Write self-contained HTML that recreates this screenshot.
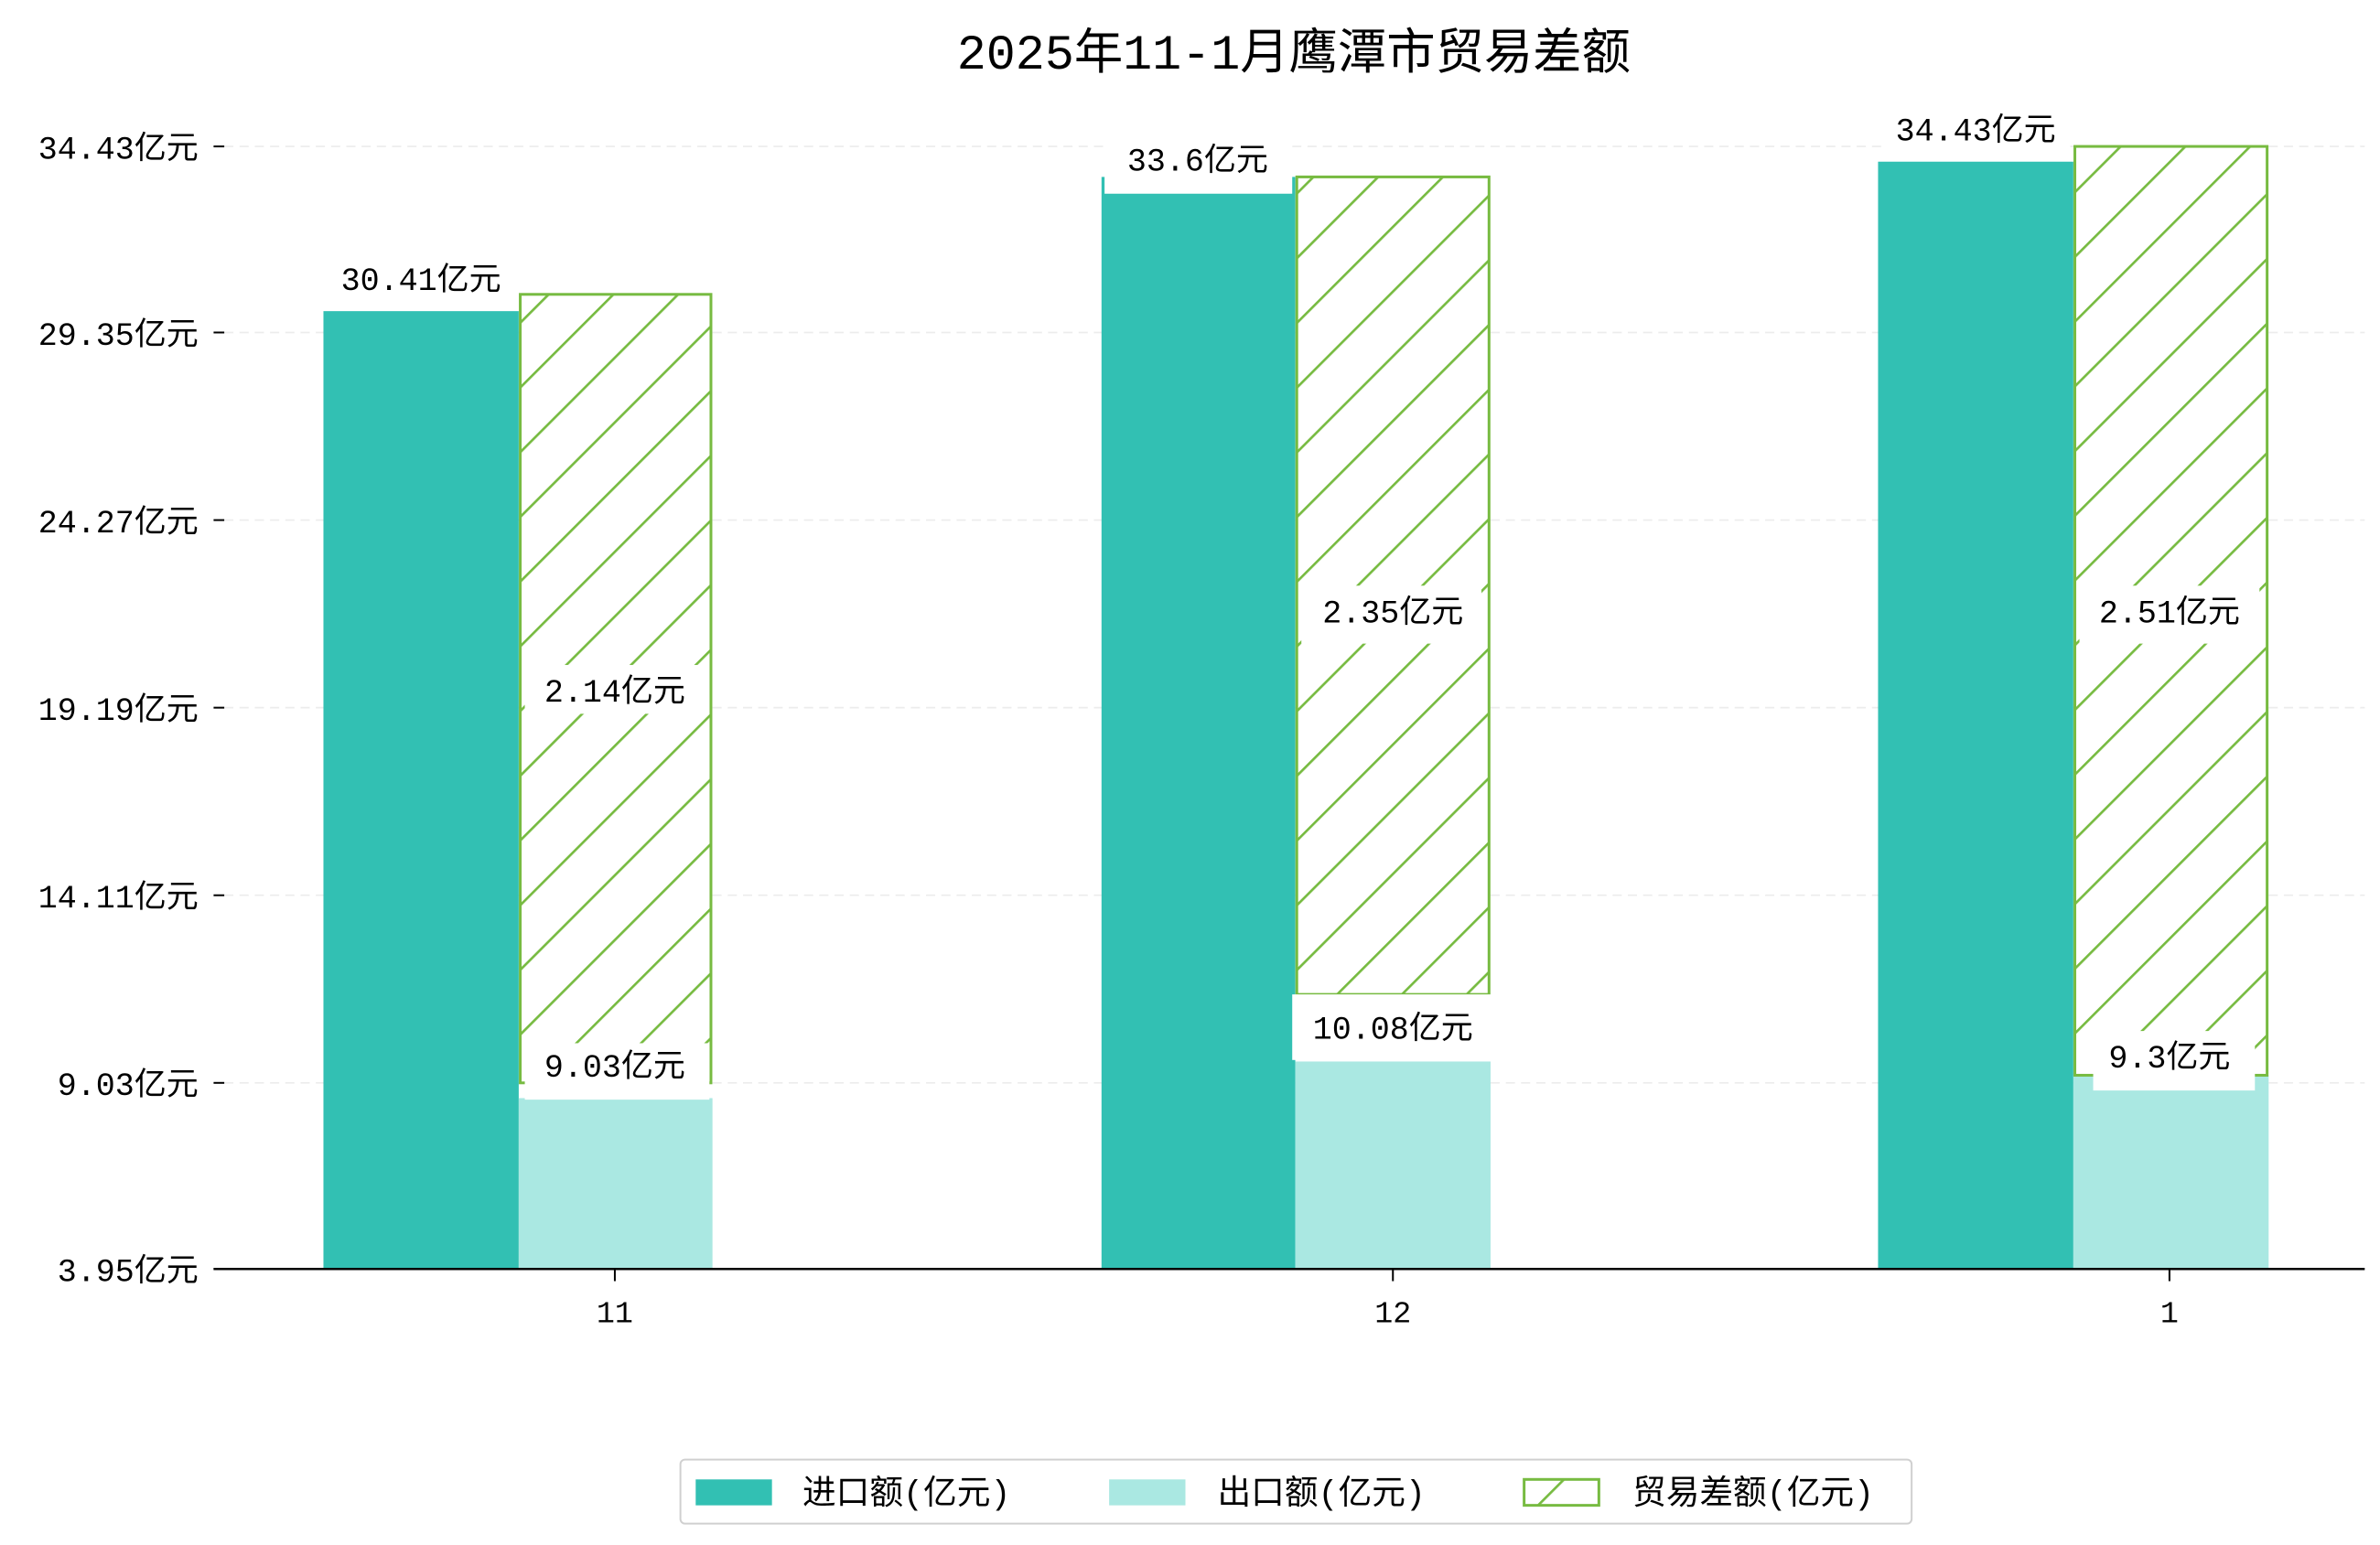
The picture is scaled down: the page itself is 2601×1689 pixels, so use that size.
<!DOCTYPE html>
<html><head><meta charset="utf-8"><style>
html,body{margin:0;padding:0;background:#fff;}
svg{display:block;}
text{font-family:"Liberation Mono","Noto Sans CJK SC",monospace;fill:#000;}
</style></head><body>
<svg width="2601" height="1689" viewBox="0 0 1560 1013" xmlns="http://www.w3.org/2000/svg">
<defs>
<pattern id="h" patternUnits="userSpaceOnUse" width="30" height="30" patternTransform="rotate(45)">
<rect width="30" height="30" fill="#fff"/>
<line x1="0" y1="0" x2="0" y2="30" stroke="#77bb41" stroke-width="3.2"/>
</pattern>
</defs>
<rect width="1560" height="1013" fill="#fff"/>
<text x="848" y="45" font-size="32" text-anchor="middle">2025年11-1月鹰潭市贸易差额</text>
<g stroke="#ececec" stroke-width="1" stroke-dasharray="6,4">
<line x1="147" y1="96" x2="1550" y2="96"/><line x1="147" y1="218" x2="1550" y2="218"/>
<line x1="147" y1="341" x2="1550" y2="341"/><line x1="147" y1="464" x2="1550" y2="464"/>
<line x1="147" y1="587" x2="1550" y2="587"/><line x1="147" y1="710" x2="1550" y2="710"/>
</g>
<g font-size="21" text-anchor="end">
<text x="130" y="104">34.43亿元</text><text x="130" y="226">29.35亿元</text>
<text x="130" y="349">24.27亿元</text><text x="130" y="472">19.19亿元</text>
<text x="130" y="595">14.11亿元</text><text x="130" y="718">9.03亿元</text>
<text x="130" y="840">3.95亿元</text>
</g>
<g stroke="#000" stroke-width="1.2">
<line x1="140" y1="96" x2="147" y2="96"/><line x1="140" y1="218" x2="147" y2="218"/>
<line x1="140" y1="341" x2="147" y2="341"/><line x1="140" y1="464" x2="147" y2="464"/>
<line x1="140" y1="587" x2="147" y2="587"/><line x1="140" y1="710" x2="147" y2="710"/>
<line x1="140" y1="832" x2="147" y2="832"/>
<line x1="403" y1="832" x2="403" y2="840"/><line x1="913" y1="832" x2="913" y2="840"/><line x1="1422" y1="832" x2="1422" y2="840"/>
</g>
<g fill="#32c0b3">
<rect x="212" y="204" width="128" height="628"/>
<rect x="722" y="116" width="127" height="716"/>
<rect x="1231" y="106" width="128" height="726"/>
</g>
<g fill="#aae8e2">
<rect x="340" y="720" width="127" height="112"/>
<rect x="849" y="696" width="128" height="136"/>
<rect x="1359" y="705" width="128" height="127"/>
</g>
<g fill="url(#h)" stroke="#77bb41" stroke-width="1.8">
<rect x="341" y="193" width="125" height="517"/>
<rect x="850" y="116" width="126" height="536"/>
<rect x="1360" y="96" width="126" height="609"/>
</g>
<line x1="140" y1="832" x2="1550" y2="832" stroke="#000" stroke-width="1.5"/>
<g fill="#fff">
<rect x="215" y="166" width="122" height="30"/>
<rect x="724" y="88" width="123" height="39"/>
<rect x="1234" y="68" width="122" height="32"/>
<rect x="344" y="436" width="118" height="32"/>
<rect x="853" y="384" width="118" height="38"/>
<rect x="1363" y="384" width="118" height="38"/>
<rect x="344" y="684" width="121" height="37"/>
<rect x="847" y="652" width="131" height="43"/>
<rect x="1372" y="676" width="106" height="39"/>
</g>
<g font-size="21" text-anchor="middle">
<text x="276" y="190">30.41亿元</text>
<text x="785" y="112">33.6亿元</text>
<text x="1295" y="92">34.43亿元</text>
<text x="403" y="460">2.14亿元</text>
<text x="913" y="408">2.35亿元</text>
<text x="1422" y="408">2.51亿元</text>
<text x="403" y="706">9.03亿元</text>
<text x="913" y="681">10.08亿元</text>
<text x="1422" y="700">9.3亿元</text>
</g>
<g font-size="20" text-anchor="middle">
<text x="403" y="867">11</text><text x="913" y="867">12</text><text x="1422" y="867">1</text>
</g>
<rect x="446" y="957" width="807" height="42" rx="3" fill="#fff" stroke="#d0d0d0" stroke-width="1.2"/>
<rect x="456" y="970" width="50" height="17" fill="#32c0b3"/>
<rect x="727" y="970" width="50" height="17" fill="#aae8e2"/>
<rect x="999" y="970" width="49" height="17" fill="url(#h)" stroke="#77bb41" stroke-width="1.8"/>
<g font-size="22">
<text x="526" y="986">进口额(亿元)</text>
<text x="798" y="986">出口额(亿元)</text>
<text x="1070" y="986">贸易差额(亿元)</text>
</g>
</svg>
</body></html>
